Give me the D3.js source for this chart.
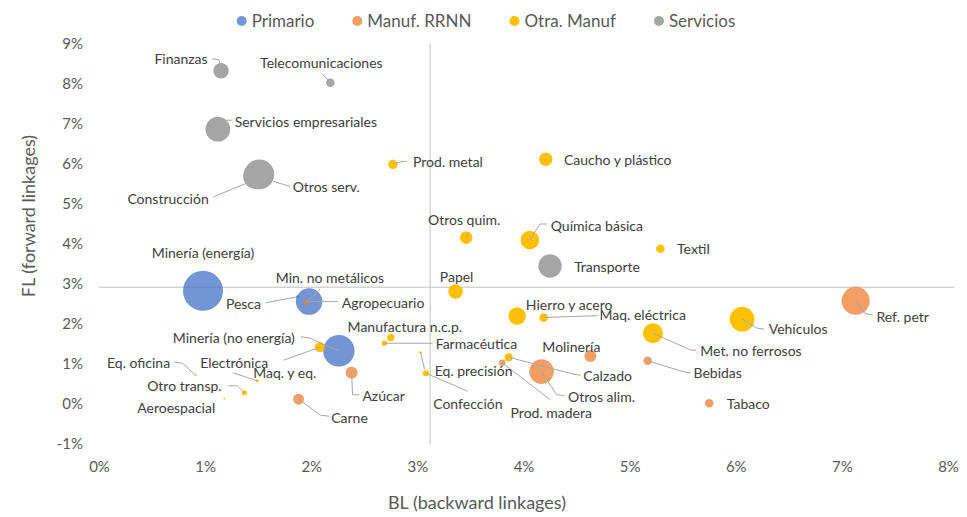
<!DOCTYPE html>
<html>
<head>
<meta charset="utf-8">
<script src="https://cdn.jsdelivr.net/npm/d3@7"></script>
<style>
    body { margin: 0; background: #fff; }
    text { font-family: Lato, "Open Sans", sans-serif; }
</style>
</head>
<body>
<div id="chart"></div>
<script>

// series (legend order)
const groups = ["Primario", "Manuf. RRNN", "Otra. Manuf", "Servicios"];

// sectors, one entry per bubble
const sectors = [
    "Minería (energía)", "Agropecuario", "Minería (no energía)", "Pesca",
    "Ref. petr", "Otros alim.", "Molinería", "Bebidas", "Tabaco", "Azúcar", "Carne", "Prod. madera", "Min. no metálicos",
    "Vehículos", "Met. no ferrosos", "Química básica", "Hierro y acero", "Papel", "Caucho y plástico", "Otros quim.",
    "Maq. y eq.", "Prod. metal", "Maq. eléctrica", "Textil", "Calzado", "Manufactura n.c.p.", "Confección",
    "Farmacéutica", "Otro transp.", "Electrónica", "Eq. precisión", "Eq. oficina", "Aeroespacial",
    "Otros serv.", "Construcción", "Servicios empresariales", "Transporte", "Finanzas", "Telecomunicaciones"
];
const sectorGroup = [
    "Primario", "Primario", "Primario", "Primario",
    "Manuf. RRNN", "Manuf. RRNN", "Manuf. RRNN", "Manuf. RRNN", "Manuf. RRNN", "Manuf. RRNN", "Manuf. RRNN", "Manuf. RRNN", "Manuf. RRNN",
    "Otra. Manuf", "Otra. Manuf", "Otra. Manuf", "Otra. Manuf", "Otra. Manuf", "Otra. Manuf", "Otra. Manuf",
    "Otra. Manuf", "Otra. Manuf", "Otra. Manuf", "Otra. Manuf", "Otra. Manuf", "Otra. Manuf", "Otra. Manuf",
    "Otra. Manuf", "Otra. Manuf", "Otra. Manuf", "Otra. Manuf", "Otra. Manuf", "Otra. Manuf",
    "Servicios", "Servicios", "Servicios", "Servicios", "Servicios", "Servicios"
];
// BL (backward linkages), %
const blValues = [
    0.98, 1.98, 2.26, 1.87,
    7.13, 4.17, 4.63, 5.17, 5.75, 2.38, 1.88, 3.80, 1.95,
    6.06, 5.22, 4.06, 3.94, 3.36, 4.21, 3.46,
    2.08, 2.77, 4.19, 5.29, 3.86, 2.75, 3.08,
    2.69, 1.37, 1.49, 3.03, 0.91, 1.18,
    1.51, 1.48, 1.12, 4.25, 1.15, 2.18
];
// FL (forward linkages), %
const flValues = [
    2.83, 2.56, 1.33, 2.68,
    2.58, 0.81, 1.20, 1.08, 0.02, 0.78, 0.12, 1.03, 2.54,
    2.12, 1.77, 4.10, 2.20, 2.81, 6.12, 4.16,
    1.42, 5.99, 2.16, 3.88, 1.17, 1.66, 0.77,
    1.52, 0.28, 0.58, 1.29, 0.72, 0.14,
    5.74, 5.70, 6.87, 3.45, 8.33, 8.03
];
// bubble size
const sizeValues = [
    100, 44, 62, 0.6,
    49, 38, 9, 4.6, 4.6, 9, 7.6, 2.7, 1.6,
    38, 25, 21.6, 19, 13.3, 11.2, 9.9,
    6.3, 5.5, 4.6, 4.6, 4, 3.4, 2.3,
    1.8, 1.6, 0.6, 0.4, 0.25, 0.25,
    56, 42, 38, 34, 14.8, 4.6
];

const xTickValues = [0, 1, 2, 3, 4, 5, 6, 7, 8];
const yTickValues = [-1, 0, 1, 2, 3, 4, 5, 6, 7, 8, 9];

// average lines
const avgBL = 3.12;
const avgFL = 2.92;
const avgLineEnd = 8.06;

// label placement (pixel offsets from the bubble centre) + leader lines
const labelLayout = {
    "Minería (energía)": {dx: 0, dy: -38},
    "Agropecuario": {dx: 74, dy: 1, leader: [[0, 0], [29, 0]]},
    "Minería (no energía)": {dx: -105, dy: -13, leader: [[0, 0], [-30, -13], [-38, -14]]},
    "Pesca": {dx: -54, dy: 7, leader: [[0, 0], [-32, 6]]},
    "Min. no metálicos": {dx: 24, dy: -24, leader: [[0, 0], [14, -13]]},
    "Ref. petr": {dx: 47, dy: 16, leader: [[0, 0], [10, 13], [17, 14]]},
    "Otros alim.": {dx: 60, dy: 25, leader: [[0, 0], [15, 23], [23, 24]]},
    "Molinería": {dx: -19, dy: -9},
    "Bebidas": {dx: 70, dy: 12, leader: [[0, 0], [36, 11], [43, 12]]},
    "Tabaco": {dx: 39, dy: 1},
    "Azúcar": {dx: 32, dy: 23, leader: [[0, 0], [1, 22], [8, 22]]},
    "Carne": {dx: 51, dy: 19, leader: [[0, 0], [22, 16], [31, 17]]},
    "Prod. madera": {dx: 49, dy: 50, leader: [[0, 0], [48, 37]]},
    "Vehículos": {dx: 56, dy: 10, leader: [[0, 0], [15, 9], [22, 10]]},
    "Met. no ferrosos": {dx: 98, dy: 18, leader: [[0, 0], [38, 17], [43, 17]]},
    "Maq. eléctrica": {dx: 99, dy: -3, leader: [[0, 0], [54, -2]]},
    "Hierro y acero": {dx: 52, dy: -11},
    "Papel": {dx: 1, dy: -15},
    "Otros quim.": {dx: -2, dy: -18, leader: [[0, 0], [2, -5]]},
    "Química básica": {dx: 67, dy: -14, leader: [[0, 0], [10, -16], [17, -16]]},
    "Caucho y plástico": {dx: 72, dy: 1},
    "Textil": {dx: 33, dy: 0},
    "Prod. metal": {dx: 55, dy: -2, leader: [[0, 0], [9, -3], [14, -3]]},
    "Manufactura n.c.p.": {dx: 14, dy: -11},
    "Farmacéutica": {dx: 92, dy: 1, leader: [[0, 0], [48, 0]]},
    "Eq. precisión": {dx: 53, dy: 19, leader: [[0, 0], [4, 17]]},
    "Confección": {dx: 42, dy: 31, leader: [[0, 0], [42, 18]]},
    "Calzado": {dx: 99, dy: 19, leader: [[0, 0], [65, 17], [72, 18]]},
    "Maq. y eq.": {dx: -35, dy: 26, leader: [[0, 0], [-36, 13]]},
    "Electrónica": {dx: -23, dy: -18, leader: [[0, 0], [-24, -8]]},
    "Eq. oficina": {dx: -57, dy: -12, leader: [[0, 0], [-13, -12], [-21, -13]]},
    "Otro transp.": {dx: -60, dy: -7, leader: [[0, 0], [-7, -7], [-16, -7]]},
    "Aeroespacial": {dx: -48, dy: 10},
    "Finanzas": {dx: -40, dy: -12, leader: [[0, 0], [-2, -11], [-9, -12]]},
    "Telecomunicaciones": {dx: -9, dy: -20, leader: [[0, 0], [-8, -9]]},
    "Servicios empresariales": {dx: 88, dy: -7, leader: [[0, 0], [9, -9], [14, -9]]},
    "Otros serv.": {dx: 67, dy: 13, leader: [[14, 7], [31, 12]]},
    "Construcción": {dx: -88, dy: 23, leader: [[-9, 7], [-43, 21]]},
    "Transporte": {dx: 57, dy: 1}
};


class BubbleVis {

    constructor(_parentElement) {
        this.parentElement = _parentElement;
        this.initVis();
    }

    initVis() {
        let vis = this;

        vis.margin = {top: 44, right: 19, bottom: 73, left: 99};
        vis.width = 967 - vis.margin.left - vis.margin.right;
        vis.height = 517 - vis.margin.top - vis.margin.bottom;

        vis.svg = d3.select("#" + vis.parentElement).append("svg")
            .attr("width", 967)
            .attr("height", 517);

        vis.g = vis.svg.append("g")
            .attr("transform", "translate(" + vis.margin.left + "," + vis.margin.top + ")");

        vis.colors = {
            "Primario": {fill: "#4472C4", opacity: 0.75},
            "Manuf. RRNN": {fill: "#ED7D31", opacity: 0.75},
            "Otra. Manuf": {fill: "#FFC000", opacity: 1},
            "Servicios": {fill: "#A5A5A5", opacity: 1}
        };

        // Scales
        vis.x = d3.scaleLinear().domain([0, 8]).range([0, vis.width]);
        vis.y = d3.scaleLinear().domain([-1, 9]).range([vis.height, 0]);
        vis.r = d3.scaleSqrt().domain([0, 100]).range([0, 20]);

        vis.data = sectors.map((s, i) => ({
            name: s,
            group: sectorGroup[i],
            bl: blValues[i],
            fl: flValues[i],
            size: sizeValues[i]
        }));

        vis.updateVis();
    }

    updateVis() {
        let vis = this;

        // Axes (labels only)
        let xAxis = d3.axisBottom(vis.x)
            .tickValues(xTickValues)
            .tickSize(0)
            .tickPadding(17)
            .tickFormat(d => d + "%");
        let yAxis = d3.axisLeft(vis.y)
            .tickValues(yTickValues)
            .tickSize(0)
            .tickPadding(16)
            .tickFormat(d => d + "%");

        vis.g.append("g")
            .attr("class", "x-axis axis")
            .attr("transform", "translate(0," + vis.height + ")")
            .call(xAxis);
        vis.g.append("g")
            .attr("class", "y-axis axis")
            .call(yAxis);

        vis.g.selectAll(".axis .domain").remove();
        vis.g.selectAll(".axis text")
            .style("font-family", "Lato, 'Open Sans', sans-serif")
            .style("font-size", "15px")
            .attr("fill", "#595959");

        // Axis titles
        vis.svg.append("text")
            .attr("x", 477)
            .attr("y", 509)
            .attr("text-anchor", "middle")
            .attr("fill", "#595959")
            .style("font-size", "18px")
            .text("BL (backward linkages)");

        vis.svg.append("text")
            .attr("transform", "translate(35,216) rotate(-90)")
            .attr("text-anchor", "middle")
            .attr("fill", "#595959")
            .style("font-size", "18px")
            .text("FL (forward linkages)");

        // Average lines
        vis.g.append("line")
            .attr("x1", vis.x(0))
            .attr("x2", vis.x(avgLineEnd))
            .attr("y1", vis.y(avgFL))
            .attr("y2", vis.y(avgFL))
            .attr("stroke", "#BFBFBF")
            .attr("stroke-width", 1);
        vis.g.append("line")
            .attr("x1", vis.x(avgBL))
            .attr("x2", vis.x(avgBL))
            .attr("y1", vis.y(9))
            .attr("y2", vis.y(-1))
            .attr("stroke", "#BFBFBF")
            .attr("stroke-width", 1);

        // Bubbles, series by series
        groups.forEach(grp => {
            vis.g.append("g")
                .attr("class", "series")
                .selectAll("circle")
                .data(vis.data.filter(d => d.group === grp))
                .enter()
                .append("circle")
                .attr("cx", d => vis.x(d.bl))
                .attr("cy", d => vis.y(d.fl))
                .attr("r", d => Math.max(1, vis.r(d.size)))
                .attr("fill", vis.colors[grp].fill)
                .attr("fill-opacity", vis.colors[grp].opacity);
        });

        // Leader lines
        let line = d3.line();
        vis.g.append("g")
            .selectAll("path")
            .data(vis.data.filter(d => labelLayout[d.name] && labelLayout[d.name].leader))
            .enter()
            .append("path")
            .attr("d", d => {
                let cx = vis.x(d.bl), cy = vis.y(d.fl);
                return line(labelLayout[d.name].leader.map(p => [cx + p[0], cy + p[1]]));
            })
            .attr("fill", "none")
            .attr("stroke", "#A6A6A6")
            .attr("stroke-width", 1);

        // Data labels
        vis.g.append("g")
            .selectAll("text")
            .data(vis.data)
            .enter()
            .append("text")
            .attr("x", d => vis.x(d.bl) + labelLayout[d.name].dx)
            .attr("y", d => vis.y(d.fl) + labelLayout[d.name].dy)
            .attr("dy", "0.35em")
            .attr("text-anchor", "middle")
            .attr("fill", "#404040")
            .style("font-size", "14px")
            .text(d => d.name);

        // Legend
        let legend = vis.svg.append("g").attr("class", "legend");
        let xPos = 0;
        groups.forEach(grp => {
            let item = legend.append("g").attr("transform", "translate(" + xPos + ",0)");
            item.append("circle")
                .attr("cx", 5)
                .attr("cy", 0)
                .attr("r", 5)
                .attr("fill", vis.colors[grp].fill)
                .attr("fill-opacity", vis.colors[grp].opacity);
            let t = item.append("text")
                .attr("x", 15)
                .attr("y", 0)
                .attr("dy", "0.35em")
                .attr("fill", "#595959")
                .style("font-size", "17px")
                .text(grp);
            xPos += 15 + t.node().getComputedTextLength() + 38;
        });
        let legendWidth = xPos - 38;
        legend.attr("transform", "translate(" + (486 - legendWidth / 2) + ",21)");
    }
}

new BubbleVis("chart");

</script>
</body>
</html>
